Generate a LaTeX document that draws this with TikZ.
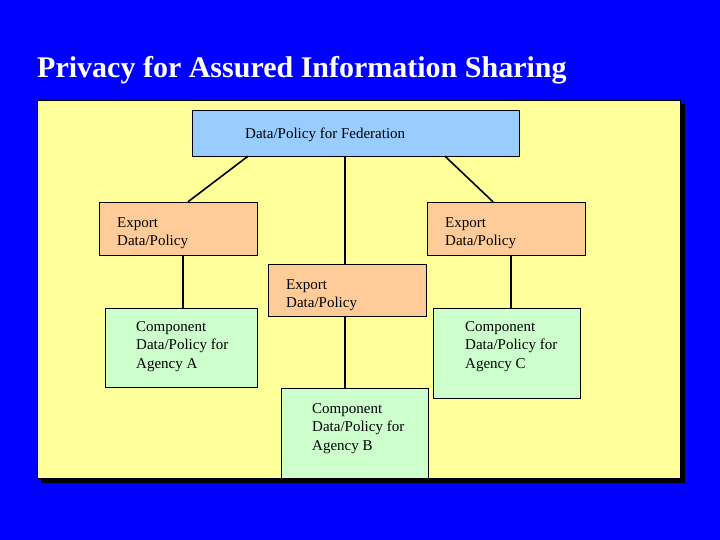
\documentclass[tikz,border=0pt]{standalone}
\usepackage{fontspec}
\setmainfont{Liberation Serif}
\begin{document}
\begin{tikzpicture}[x=1pt,y=-1pt,
  box/.style={draw=black,line width=0.8pt,inner sep=0pt},
  lbl/.style={anchor=north west,align=left,font=\fontsize{15}{18.5}\selectfont,inner sep=0pt},
  conn/.style={line width=1.6pt}]
\definecolor{bgblue}{RGB}{0,0,255}
\definecolor{panel}{RGB}{255,255,153}
\definecolor{fedc}{RGB}{153,204,255}
\definecolor{expc}{RGB}{255,204,153}
\definecolor{compc}{RGB}{204,255,204}
\fill[bgblue] (0,0) rectangle (720,540);
\useasboundingbox (0,0) rectangle (720,540);
\fill[black] (41,104) rectangle (685,483);
\fill[panel] (37,100) rectangle (680,478);
\draw[black,line width=0.5pt] (37,100) rectangle (680,478);
\node[anchor=west,inner sep=0pt,text=white,font=\bfseries\fontsize{30}{34}\selectfont] (title) at (37,70) {Privacy for Assured Information Sharing};
% boxes
\draw[box,fill=fedc] (192,110) rectangle (519,156);
\node[inner sep=0pt,minimum width=327pt,minimum height=46pt] (fed) at (355.5,133) {};
\node[lbl] (fedt) at (245,128) {Data/Policy for Federation};
\draw[box,fill=expc] (99,202) rectangle (257,255);
\node[inner sep=0pt,minimum width=158pt,minimum height=53pt] (exl) at (178,228.5) {};
\node[lbl] (exlt) at (117,217) {Export\\Data/Policy};
\draw[box,fill=expc] (427,202) rectangle (585,255);
\node[inner sep=0pt,minimum width=158pt,minimum height=53pt] (exr) at (506,228.5) {};
\node[lbl] (exrt) at (445,217) {Export\\Data/Policy};
\draw[box,fill=expc] (268,264) rectangle (426,316);
\node[inner sep=0pt,minimum width=158pt,minimum height=52pt] (exm) at (347,290) {};
\node[lbl] (exmt) at (286,279) {Export\\Data/Policy};
\draw[box,fill=compc] (105,308) rectangle (257,387);
\node[inner sep=0pt,minimum width=152pt,minimum height=79pt] (ca) at (181,347.5) {};
\node[lbl] (cat) at (136,321) {Component\\Data/Policy for\\Agency A};
\draw[box,fill=compc] (433,308) rectangle (580,398);
\node[inner sep=0pt,minimum width=147pt,minimum height=90pt] (cc) at (506.5,353) {};
\node[lbl] (cct) at (465,321) {Component\\Data/Policy for\\Agency C};
\draw[box,fill=compc] (281,388) rectangle (428,478);
\node[inner sep=0pt,minimum width=147pt,minimum height=90pt] (cb) at (354.5,433) {};
\node[lbl] (cbt) at (312,403) {Component\\Data/Policy for\\Agency B};
% connectors
\draw[conn] (fed.south -| 248,0) -- (exl.north -| 188,0);
\draw[conn] (fed.south -| 445,0) -- (exr.north -| 493,0);
\draw[conn] (fed.south -| 345,0) -- (exm.north -| 345,0);
\draw[conn] (exl.south -| 183,0) -- (ca.north -| 183,0);
\draw[conn] (exr.south -| 511,0) -- (cc.north -| 511,0);
\draw[conn] (exm.south -| 345,0) -- (cb.north -| 345,0);
\end{tikzpicture}
\end{document}
